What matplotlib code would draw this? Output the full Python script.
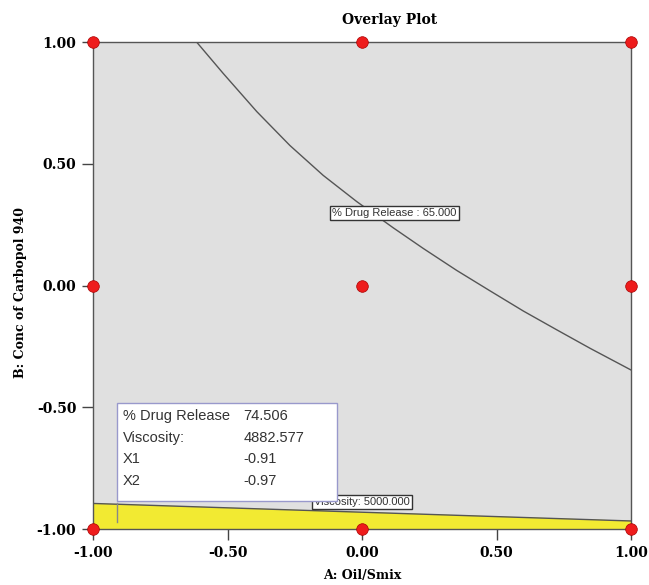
import numpy as np
import matplotlib
matplotlib.use("Agg")
import matplotlib.pyplot as plt

# contour for % Drug Release = 65
release_x = [-0.615, -0.516, -0.391, -0.268, -0.144, -0.020, 0.116, 0.228,
             0.352, 0.476, 0.600, 0.724, 0.848, 1.0]
release_y = [1.0, 0.871, 0.714, 0.575, 0.452, 0.345, 0.237, 0.152,
             0.062, -0.022, -0.105, -0.182, -0.258, -0.347]

# contour for Viscosity = 5000 (upper edge of the yellow band)
visc_x = [-1.0, 1.0]
visc_y = [-0.895, -0.967]

# design points
design_x = [-1, 0, 1, -1, 0, 1, -1, 0, 1]
design_y = [-1, -1, -1, 0, 0, 0, 1, 1, 1]

ticks = [-1.0, -0.5, 0.0, 0.5, 1.0]
tick_labels = ["-1.00", "-0.50", "0.00", "0.50", "1.00"]

flag_x, flag_y = -0.91, -0.97
flag_rows = [("% Drug Release", "74.506"), ("Viscosity:", "4882.577"),
             ("X1", "-0.91"), ("X2", "-0.97")]

sans = ["Liberation Sans", "DejaVu Sans"]
serif = "DejaVu Serif"

fig = plt.figure(figsize=(6.49, 5.85), dpi=100)
ax = fig.add_axes([0.1433, 0.0957, 0.829, 0.8325])
ax.set_xlim(-1, 1)
ax.set_ylim(-1, 1)
ax.set_facecolor("#e0e0e0")

# yellow feasible band
ax.fill_between(visc_x, -1, visc_y, color="#f2ea32", zorder=1)
ax.plot(visc_x, visc_y, color="#555555", lw=1, zorder=2)

ax.plot(release_x, release_y, color="#555555", lw=1, zorder=2)

ax.text(0.12, 0.298, "% Drug Release : 65.000", fontsize=8, family=sans,
        ha="center", va="center", color="#333333", zorder=3,
        bbox=dict(boxstyle="square,pad=0.2", fc="white", ec="#333333", lw=1))
ax.text(0.0, -0.889, "Viscosity: 5000.000", fontsize=8, family=sans,
        ha="center", va="center", color="#333333", zorder=3,
        bbox=dict(boxstyle="square,pad=0.2", fc="white", ec="#333333", lw=1))

# flag box
ax.plot([flag_x, flag_x], [-0.895, flag_y], color="#888888", lw=1, zorder=4)
bx0, bx1 = flag_x, flag_x + 0.818
by0, by1 = -0.885, -0.482
ax.add_patch(plt.Rectangle((bx0, by0), bx1 - bx0, by1 - by0, fc="white",
                           ec="#9999cc", lw=1, zorder=5))
for i, (name, val) in enumerate(flag_rows):
    yy = by1 - 0.055 - i * 0.088
    ax.text(bx0 + 0.02, yy, name, fontsize=10.5, family=sans, va="center",
            color="#333333", zorder=6)
    ax.text(bx0 + 0.47, yy, val, fontsize=10.5, family=sans, va="center",
            color="#333333", zorder=6)

ax.scatter(design_x, design_y, s=70, color="#ee1c1c", edgecolor="#aa0000",
           lw=0.5, zorder=10, clip_on=False)

ax.set_xticks(ticks)
ax.set_xticklabels(tick_labels)
ax.set_yticks(ticks)
ax.set_yticklabels(tick_labels)
ax.tick_params(direction="out", length=8, width=1, color="#444444",
               labelsize=10, pad=4)
for lab in ax.get_xticklabels() + ax.get_yticklabels():
    lab.set_family(serif)
    lab.set_fontweight("bold")
for s in ax.spines.values():
    s.set_color("#555555")
    s.set_linewidth(1)

fig.text(0.5995, 0.966, "Overlay Plot", family=serif, fontweight="bold",
         fontsize=10, ha="center", va="center")
fig.text(0.558, 0.017, "A: Oil/Smix", family=serif, fontweight="bold",
         fontsize=9, ha="center", va="center")
fig.text(0.031, 0.5, "B: Conc of Carbopol 940", family=serif,
         fontweight="bold", fontsize=9, ha="center", va="center",
         rotation=90)

fig.savefig("out.png", dpi=100)
